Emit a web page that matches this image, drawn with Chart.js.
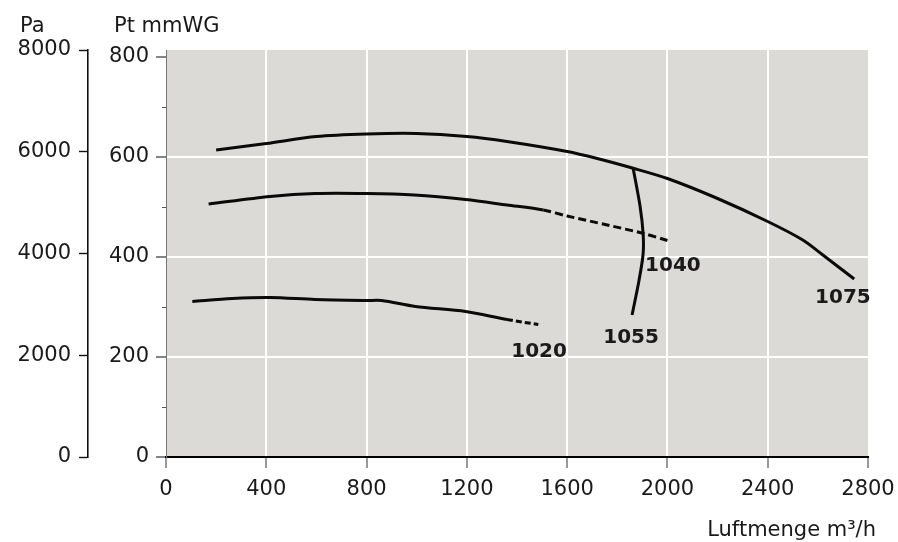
<!DOCTYPE html>
<html>
<head>
<meta charset="utf-8">
<script src="https://cdn.jsdelivr.net/npm/chart.js@4.4.1/dist/chart.umd.min.js"></script>
<style>
  html, body { margin: 0; padding: 0; background: #fff; }
  #wrap { width: 898px; height: 542px; position: relative; }
</style>
</head>
<body>
<div id="wrap"><canvas id="fanChart"></canvas></div>
<script>
// --- data (x = Luftmenge m3/h, y = Pt mmWG) ---
const flowTicks = [0, 400, 800, 1200, 1600, 2000, 2400, 2800];
const mmTicks = [0, 100, 200, 300, 400, 500, 600, 700, 800];
const paTicks = [0, 2000, 4000, 6000, 8000];

const flow1075 = [200, 400, 600, 800, 1000, 1200, 1360, 1600, 1720, 1860, 2000, 2200, 2400, 2540, 2620, 2745];
const pt1075 = [614, 627, 641, 646, 647, 641, 631, 611, 597, 578, 557, 517, 471, 434, 404, 356];

const flow1040 = [170, 415, 595, 800, 990, 1195, 1360, 1505, 1600, 1760, 1905, 2000];
const pt1040 = [506, 521, 527, 527, 524, 515, 504, 494, 482, 464, 447, 433];
const dash1040 = 1505;

const flow1020 = [105, 265, 415, 595, 800, 860, 995, 1195, 1360, 1485];
const pt1020 = [311, 317, 319, 315, 313, 313, 301, 291, 275, 265];
const dash1020 = 1360;

const flow1055 = [1863, 1891, 1903, 1903, 1887, 1859];
const pt1055 = [578, 501, 447, 406, 354, 284];

const curveNames = ['1020', '1040', '1055', '1075'];
// where each name sits, in chart units
const nameFlow = [1488, 2022, 1855, 2700];
const namePt = [210, 382, 238, 319];

const FONT = "'DejaVu Sans', sans-serif";
const INK = '#1a1a1a';

function pts(xs, ys) {
    return xs.map((x, i) => ({ x: x, y: ys[i] }));
}

const plotBg = {
    id: 'plotBg',
    beforeDraw(chart) {
        const a = chart.chartArea;
        const ctx = chart.ctx;
        ctx.save();
        ctx.fillStyle = '#dcdad7';
        ctx.fillRect(a.left, a.top, a.right - a.left, a.bottom - a.top);
        ctx.restore();
    }
};

const overlay = {
    id: 'overlay',
    afterDraw(chart) {
        const ctx = chart.ctx;
        const xs = chart.scales.x;
        const ys = chart.scales.y;
        ctx.save();

        // minor ticks on the mmWG axis
        ctx.strokeStyle = '#555';
        ctx.lineWidth = 1;
        mmTicks.filter(v => v % 200 !== 0).forEach(v => {
            const py = Math.round(ys.getPixelForValue(v)) + 0.5;
            ctx.beginPath();
            ctx.moveTo(ys.right - 4, py);
            ctx.lineTo(ys.right, py);
            ctx.stroke();
        });

        // axis titles
        ctx.fillStyle = INK;
        ctx.font = '21px ' + FONT;
        ctx.textBaseline = 'alphabetic';
        ctx.textAlign = 'left';
        ctx.fillText('Pa', 20, 32);
        ctx.fillText('Pt mmWG', 114, 32);
        ctx.textAlign = 'right';
        ctx.fillText('Luftmenge m³/h', 876, 536);

        // curve names
        ctx.font = 'bold 20px ' + FONT;
        ctx.textAlign = 'center';
        ctx.textBaseline = 'middle';
        curveNames.forEach((n, i) => {
            ctx.fillText(n, xs.getPixelForValue(nameFlow[i]), ys.getPixelForValue(namePt[i]));
        });
        ctx.restore();
    }
};

const lineStyle = {
    showLine: true,
    borderColor: '#0a0a0a',
    borderWidth: 3,
    pointRadius: 0,
    tension: 0.3,
    fill: false
};

new Chart(document.getElementById('fanChart'), {
    type: 'scatter',
    data: {
        datasets: [
            Object.assign({ label: '1075', data: pts(flow1075, pt1075) }, lineStyle),
            Object.assign({
                label: '1040', data: pts(flow1040, pt1040),
                segment: { borderDash: c => c.p0.parsed.x >= dash1040 ? [8, 4] : [] }
            }, lineStyle),
            Object.assign({
                label: '1020', data: pts(flow1020, pt1020),
                segment: { borderDash: c => c.p0.parsed.x >= dash1020 ? [6, 3] : [] }
            }, lineStyle),
            Object.assign({ label: '1055', data: pts(flow1055, pt1055) }, lineStyle)
        ]
    },
    options: {
        responsive: true,
        maintainAspectRatio: false,
        animation: false,
        layout: { padding: { top: 50, right: 30, bottom: 0, left: 0 } },
        plugins: { legend: { display: false }, tooltip: { enabled: false } },
        scales: {
            x: {
                type: 'linear',
                min: 0, max: 2800,
                afterBuildTicks: s => { s.ticks = flowTicks.map(v => ({ value: v })); },
                afterFit: s => { s.height = 85; s.paddingLeft = 0; s.paddingRight = 0; },
                border: { display: true, color: '#000', width: 2 },
                grid: {
                    color: c => (c.tick && c.tick.value > 0 && c.tick.value < 2800) ? '#ffffff' : 'rgba(0,0,0,0)',
                    lineWidth: 2,
                    drawTicks: true,
                    tickLength: 11,
                    tickColor: '#555',
                    tickWidth: 1.2
                },
                ticks: {
                    color: INK, font: { family: FONT, size: 21 }, padding: 9, maxRotation: 0,
                    callback: v => String(v)
                }
            },
            y: {
                type: 'linear',
                position: 'left',
                weight: 0,
                min: 0, max: 814,
                afterBuildTicks: s => { s.ticks = mmTicks.map(v => ({ value: v })); },
                afterFit: s => { s.width = 78; },
                border: { display: true, color: '#777', width: 1 },
                grid: {
                    color: c => (c.tick && c.tick.value > 0 && c.tick.value < 800 && c.tick.value % 200 === 0) ? '#ffffff' : 'rgba(0,0,0,0)',
                    lineWidth: 2,
                    drawTicks: true,
                    tickLength: 10,
                    tickColor: c => (c.tick && c.tick.value % 200 === 0) ? '#333' : 'rgba(0,0,0,0)',
                    tickWidth: 1.2
                },
                ticks: {
                    color: INK,
                    font: { family: FONT, size: 21 },
                    padding: 7,
                    callback: v => (v % 200 === 0 ? String(v) : '')
                }
            },
            pa: {
                type: 'linear',
                position: 'left',
                weight: 1,
                min: 0, max: 8000,
                afterBuildTicks: s => { s.ticks = paTicks.map(v => ({ value: v })); },
                afterFit: s => { s.width = 88; },
                border: { display: true, color: '#111', width: 1.6 },
                grid: {
                    drawOnChartArea: false,
                    drawTicks: true,
                    tickLength: 9,
                    tickColor: '#111',
                    tickWidth: 1.4
                },
                ticks: {
                    color: INK, font: { family: FONT, size: 21 }, padding: 8,
                    callback: v => String(v)
                }
            }
        }
    },
    plugins: [plotBg, overlay]
});
</script>
</body>
</html>
